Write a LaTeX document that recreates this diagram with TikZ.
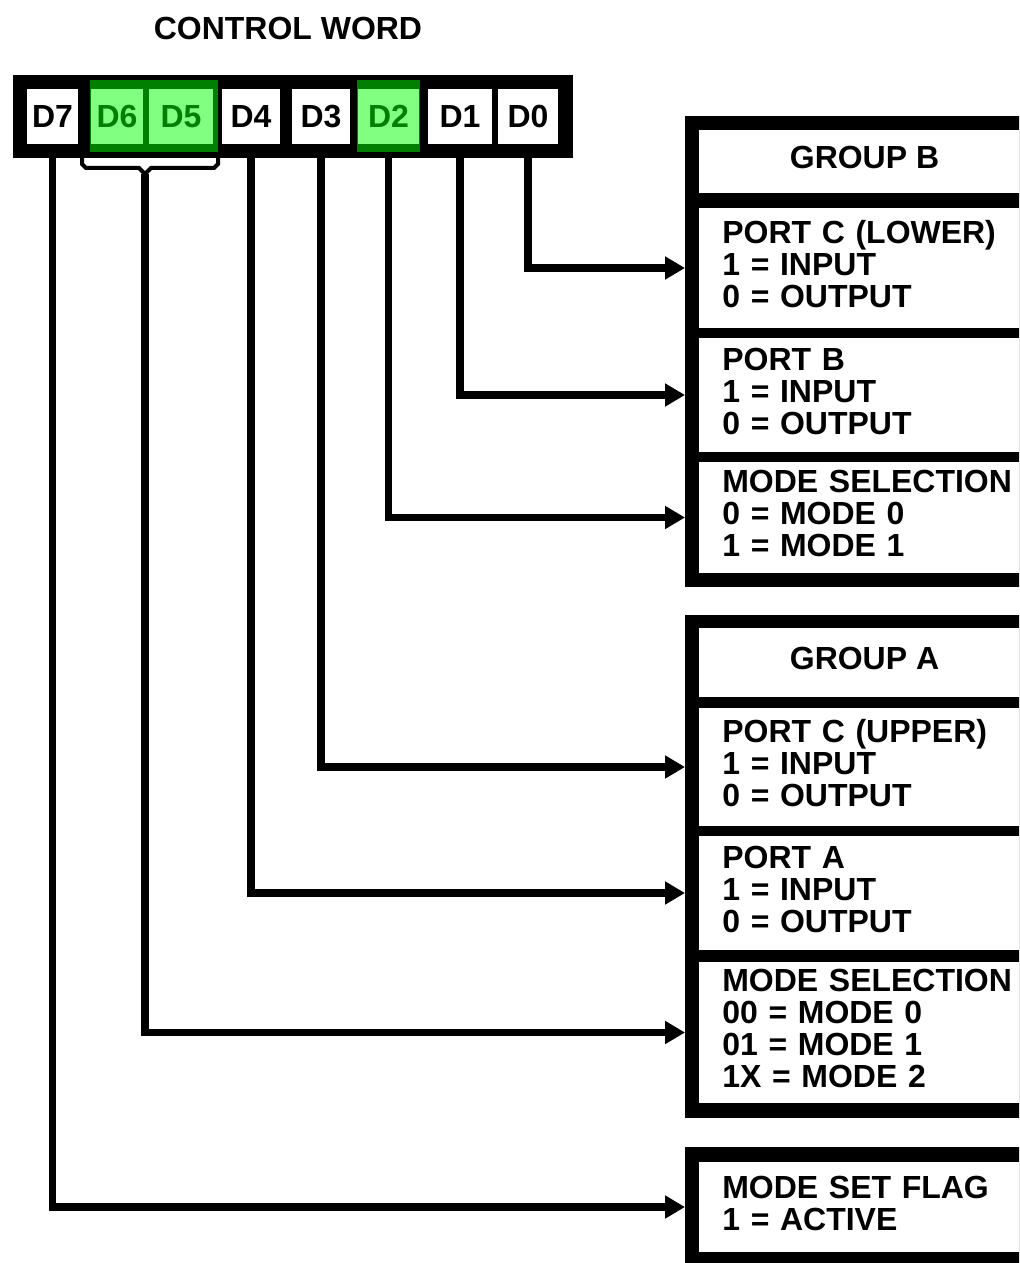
\documentclass[tikz,border=0pt]{standalone}
\usepackage{fontspec}
\setmainfont{Liberation Sans}
\usepackage{tikz}
\usetikzlibrary{arrows.meta,positioning,backgrounds}
\definecolor{cwink}{HTML}{000000}
\definecolor{cwlight}{HTML}{80FF80}
\definecolor{cwdark}{HTML}{007F00}
\tikzset{
  bitcell/.style={rectangle,fill=white,minimum height=1.1cm,inner sep=0pt,
                  font=\bfseries\fontsize{18.2}{18.2}\selectfont,text=cwink},
  setbit/.style={bitcell,fill=cwlight,text=cwdark},
  blkframe/.style={rectangle,fill=cwink,inner sep=0pt},
  sect/.style={rectangle,fill=white,anchor=west,text width=6.5cm,
               inner xsep=0.46cm,inner ysep=0pt,align=left,text depth=#1,
               font=\bfseries\fontsize{18.2}{18.2}\selectfont,text=cwink},
  sect/.default=1.44cm,
  grouphead/.style={rectangle,fill=white,minimum width=6.62cm,inner sep=0pt,
               text depth=0.16cm,
               font=\bfseries\fontsize{18.2}{18.2}\selectfont,text=cwink},
  wire/.style={-{Triangle[length=0.4cm,width=0.44cm]},line width=0.15cm,
               draw=cwink,shorten >=0.28cm},
  bracket/.style={line width=0.08cm,draw=cwink,line join=miter},
}

\begin{document}
\begin{tikzpicture}[x=0.02cm,y=-0.02cm]
\clip (0,0) rectangle (1019,1263);

% control word register
\node[font=\bfseries\fontsize{18.2}{18.2}\selectfont] (cword) at (288,28) {CONTROL WORD};
\node[blkframe,minimum width=11.2cm,minimum height=1.66cm] (reg) at (293,116.5) {};
\fill[cwdark] (90,80) rectangle (218,152);
\fill[cwdark] (357,80) rectangle (420,152);
\node[bitcell,minimum width=1.02cm] (d7) at (52.5,116.5) {D7};
\node[setbit,minimum width=1.04cm] (d6) at (117,116.5) {D6};
\node[setbit,minimum width=1.28cm] (d5) at (181,116.5) {D5};
\node[bitcell,minimum width=1.16cm] (d4) at (251,116.5) {D4};
\node[bitcell,minimum width=1.16cm] (d3) at (321,116.5) {D3};
\node[setbit,minimum width=1.22cm] (d2) at (388.5,116.5) {D2};
\node[bitcell,minimum width=1.28cm] (d1) at (460,116.5) {D1};
\node[bitcell,minimum width=1.2cm] (d0) at (528,116.5) {D0};
\draw[bracket] (82,158) -- (82,164) -- (86,168) -- (139,168) -- (145,174)
  -- (151,168) -- (214,168) -- (218,164) -- (218,158);
\coordinate (brc) at (145,174);

% group B
\node[blkframe,minimum width=7.18cm,minimum height=9.42cm] (grpb) at (864.5,351.5) {};
\node[grouphead,minimum height=1.26cm] (hdb) at (864.5,161.5) {GROUP B};
\node[sect,minimum height=2.4cm] (pcl) at (699,268) {PORT C (LOWER)\\1 = INPUT\\0 = OUTPUT};
\node[sect,minimum height=2.28cm] (pb) at (699,395) {PORT B\\1 = INPUT\\0 = OUTPUT};
\node[sect,minimum height=2.22cm] (msb) at (699,517.5) {MODE SELECTION\\0 = MODE 0\\1 = MODE 1};

% group A
\node[blkframe,minimum width=7.18cm,minimum height=10.06cm] (grpa) at (864.5,866.5) {};
\node[grouphead,minimum height=1.38cm] (hda) at (864.5,662.5) {GROUP A};
\node[sect,minimum height=2.36cm] (pcu) at (699,767) {PORT C (UPPER)\\1 = INPUT\\0 = OUTPUT};
\node[sect,minimum height=2.28cm] (pa) at (699,893) {PORT A\\1 = INPUT\\0 = OUTPUT};
\node[sect=2.08cm,minimum height=2.82cm] (msa) at (699,1032.5) {MODE SELECTION\\00 = MODE 0\\01 = MODE 1\\1X = MODE 2};

% mode set flag
\node[blkframe,minimum width=7.18cm,minimum height=2.38cm] (flagbox) at (864.5,1206.5) {};
\node[sect=0.8cm,minimum height=1.8cm] (flag) at (699,1207) {MODE SET FLAG\\1 = ACTIVE};

\begin{scope}[on background layer]
\draw[wire] (d0.south) |- (pcl.west);
\draw[wire] (d1.south) |- (pb.west);
\draw[wire] (d2.south) |- (msb.west);
\draw[wire] (d3.south) |- (pcu.west);
\draw[wire] (d4.south) |- (pa.west);
\draw[wire] (brc) |- (msa.west);
\draw[wire] (d7.south) |- (flag.west);
\end{scope}
\end{tikzpicture}
\end{document}
